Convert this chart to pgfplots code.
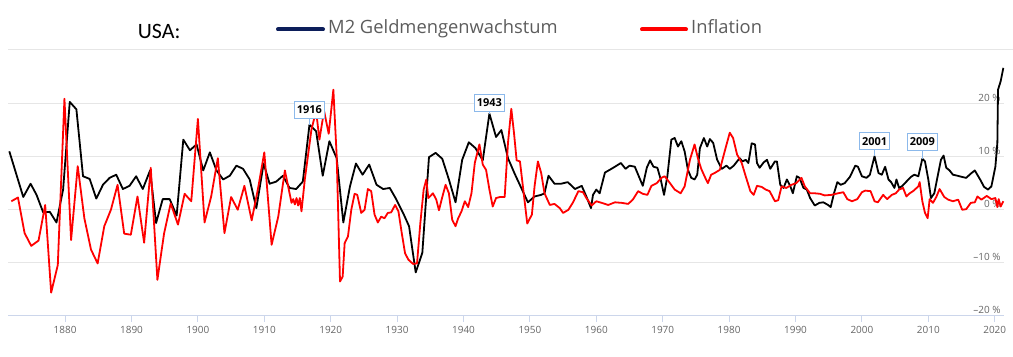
\documentclass[border=0pt]{standalone}
\usepackage{fontspec}
\usepackage{pgfplots}
\pgfplotsset{compat=1.18}
\setmainfont{Open Sans}
\newfontfamily\carlito{Carlito}
\definecolor{m2navy}{RGB}{12,30,90}
\definecolor{legendgray}{RGB}{92,92,92}
\definecolor{tickgray}{RGB}{102,102,102}
\definecolor{gridgray}{RGB}{230,230,230}
\definecolor{axisblue}{RGB}{204,214,235}
\definecolor{lblblue}{RGB}{140,185,235}
\definecolor{infred}{RGB}{255,0,0}
\begin{document}
\begin{tikzpicture}
\path[use as bounding box] (0,0) rectangle (1013bp,357bp);
\draw[gridgray, line width=1bp] (8bp,307.7bp) -- (1013bp,307.7bp);
\node[anchor=base west, inner sep=0] at (137.7bp,318.7bp) {\carlito\fontsize{22}{26}\selectfont USA:};
\draw[m2navy, line width=4bp, line cap=round] (278bp,327.5bp) -- (323bp,327.5bp);
\node[anchor=base west, inner sep=0, text=legendgray] at (328bp,323.7bp) {\fontsize{18.4}{22}\selectfont M2 Geldmengenwachstum};
\draw[infred, line width=4bp, line cap=round] (642bp,327.5bp) -- (686bp,327.5bp);
\node[anchor=base west, inner sep=0, text=legendgray] at (691bp,323.7bp) {\fontsize{18.4}{22}\selectfont Inflation};
\begin{axis}[
  at={(8bp,41bp)}, anchor=south west,
  width=996bp, height=255bp, scale only axis,
  xmin=1871.4, xmax=2021.4, ymin=-20, ymax=28,
  axis x line*=bottom, axis y line*=right,
  x axis line style={draw=axisblue, line width=1bp},
  y axis line style={draw=none},
  xtick={1880,1890,...,2020},
  xticklabels={1880,1890,1900,1910,1920,1930,1940,1950,1960,1970,1980,1990,2000,2010,2020},
  ytick={-20,-10,0,10,20},
  yticklabels={–20 \%,–10 \%,0 \%,10 \%,20 \%},
  ymajorgrids, major grid style={draw=gridgray, line width=1bp},
  xtick style={draw=axisblue, line width=1bp},
  ytick style={draw=none},
  xtick align=outside, major tick length=6bp,
  ticklabel style={font=\fontsize{10}{12}\selectfont, text=tickgray},
  xticklabel style={yshift=-1bp},
  yticklabel style={anchor=base east, yshift=2.5bp, xshift=0bp},
  clip=true,
]
\addplot[black, line width=1.8bp, line join=round] coordinates {
(1871.6,11.0) (1873.7,2.4) (1874.8,4.9) (1875.7,2.8) (1876.7,-0.5) (1877.7,-0.4) (1878.7,-2.4) (1879.7,3.8) (1880.7,20.3) (1881.7,18.9) (1882.7,6.3) (1883.7,5.8) (1884.7,2.1) (1885.7,4.7) (1886.7,6.0) (1887.7,6.6) (1888.7,3.9) (1889.7,4.5) (1890.7,6.3) (1891.7,3.9) (1892.8,7.4) (1893.7,-2.5) (1894.7,2.0) (1895.75,2.0) (1896.8,-1.1) (1897.8,13.2) (1898.8,11.2) (1899.8,12.3) (1900.8,7.4) (1901.8,10.8) (1902.8,7.4) (1903.8,5.7) (1904.8,6.4) (1905.8,8.3) (1906.8,7.7) (1907.8,5.7) (1908.8,0.3) (1909.9,8.7) (1910.8,4.9) (1911.8,5.3) (1912.8,6.4) (1913.8,4.1) (1914.8,3.9) (1915.8,5.3) (1916.8,16.0) (1917.8,14.8) (1918.8,6.4) (1919.8,12.9) (1920.9,9.7) (1921.9,-2.4) (1922.9,4.4) (1923.8,8.7) (1924.8,6.6) (1925.8,8.5) (1926.9,4.7) (1927.9,3.9) (1928.9,4.1) (1929.9,1.9) (1930.9,-0.6) (1931.8,-3.1) (1932.8,-11.8) (1933.8,-8.1) (1934.8,9.9) (1935.8,10.7) (1936.8,9.6) (1937.8,5.7) (1938.8,1.4) (1939.8,9.4) (1940.8,12.7) (1941.8,11.6) (1942.9,9.3) (1943.9,18.1) (1944.9,13.7) (1945.7,15.0) (1946.7,9.7) (1947.7,6.8) (1948.7,4.1) (1949.7,1.4) (1950.7,2.5) (1951.7,2.8) (1952.2,3.1) (1952.8,6.4) (1953.7,4.9) (1954.7,4.9) (1955.7,5.2) (1956.8,3.9) (1957.8,4.5) (1958.5,2.5) (1959.2,0.3) (1959.5,2.8) (1960.0,3.8) (1960.5,3.1) (1961.3,7.0) (1962.0,7.5) (1962.8,8.1) (1963.7,8.8) (1964.4,7.7) (1965.0,8.3) (1965.8,8.1) (1966.4,6.3) (1967.0,4.5) (1967.6,7.9) (1968.1,9.3) (1968.6,8.1) (1969.2,7.9) (1969.7,5.7) (1970.2,2.8) (1970.7,6.3) (1971.3,13.2) (1971.8,13.5) (1972.3,11.9) (1972.8,12.9) (1973.3,11.0) (1973.8,7.5) (1974.3,6.0) (1974.8,5.7) (1975.2,6.6) (1975.6,11.6) (1976.2,13.5) (1976.7,11.9) (1977.1,13.3) (1977.6,12.6) (1978.2,9.4) (1978.9,7.7) (1979.6,8.3) (1980.1,7.7) (1980.7,8.3) (1981.2,9.1) (1981.6,9.7) (1982.0,9.1) (1982.5,9.4) (1982.9,8.8) (1983.4,12.5) (1983.9,12.3) (1984.2,8.8) (1984.6,7.9) (1985.2,8.9) (1985.7,9.4) (1986.2,7.7) (1986.9,9.1) (1987.2,9.1) (1987.7,4.7) (1988.2,4.1) (1988.7,5.7) (1989.2,4.5) (1989.6,3.1) (1990.2,6.3) (1990.6,6.0) (1991.2,4.1) (1991.7,3.8) (1992.2,2.2) (1992.9,0.8) (1993.6,1.3) (1994.2,1.4) (1994.9,0.9) (1995.3,0.5) (1995.8,3.1) (1996.3,5.2) (1996.8,4.7) (1997.4,5.0) (1998.2,6.2) (1999.0,8.3) (1999.4,8.1) (2000.0,6.3) (2000.7,6.0) (2001.2,6.6) (2001.9,10.1) (2002.5,6.9) (2003.0,6.6) (2003.5,8.1) (2004.0,5.7) (2004.4,5.2) (2004.9,4.1) (2005.2,5.7) (2005.6,4.1) (2006.1,4.5) (2006.7,5.3) (2007.4,6.2) (2007.9,6.6) (2008.5,6.3) (2009.1,9.6) (2009.5,9.1) (2010.0,5.7) (2010.4,2.2) (2010.9,3.1) (2011.5,6.9) (2011.9,9.4) (2012.3,10.2) (2012.7,7.9) (2013.2,7.4) (2013.7,6.6) (2014.4,6.4) (2015.0,6.2) (2015.7,6.0) (2016.4,6.8) (2017.0,7.4) (2017.8,5.7) (2018.4,4.3) (2019.0,3.8) (2019.5,4.4) (2020.1,8.1) (2020.4,12.6) (2020.5,22.6) (2020.9,24.2) (2021.3,26.7)
};
\addplot[infred, line width=1.8bp, line join=round] coordinates {
(1871.9,1.6) (1872.9,2.3) (1873.9,-4.4) (1874.9,-6.8) (1876.0,-5.8) (1877.0,0.9) (1877.9,-15.6) (1878.9,-10.4) (1879.9,20.9) (1880.9,-5.7) (1881.9,8.2) (1882.9,-1.6) (1883.9,-7.5) (1884.9,-10.1) (1885.9,-3.1) (1886.9,0.0) (1887.9,4.7) (1888.9,-4.5) (1889.9,-4.7) (1890.9,2.5) (1891.9,-6.2) (1892.9,7.9) (1893.9,-13.2) (1894.9,-4.5) (1895.9,1.2) (1897.0,-2.8) (1898.0,3.0) (1899.0,1.6) (1900.0,17.1) (1901.0,-2.4) (1902.0,2.5) (1903.0,9.7) (1904.0,-4.4) (1905.0,2.4) (1906.0,0.0) (1907.0,4.5) (1908.1,-2.0) (1909.1,4.3) (1910.0,10.8) (1911.1,-6.6) (1912.1,-1.3) (1913.1,7.4) (1914.1,1.3) (1914.35,2.0) (1914.6,1.0) (1914.85,2.2) (1915.1,0.8) (1915.35,2.2) (1915.6,-0.3) (1916.1,5.7) (1917.1,15.1) (1917.8,18.6) (1918.3,13.2) (1919.0,18.6) (1919.7,14.3) (1920.4,22.6) (1920.9,10.1) (1921.4,-13.5) (1921.8,-12.6) (1922.1,-6.3) (1922.6,-5.0) (1923.1,0.0) (1923.6,3.0) (1924.0,2.8) (1924.6,-0.6) (1925.1,0.0) (1925.6,3.9) (1926.1,3.5) (1926.6,-0.9) (1927.1,-2.4) (1927.6,-1.3) (1928.1,-1.6) (1928.6,-0.6) (1929.1,-0.5) (1929.7,0.9) (1930.2,-0.3) (1930.7,-4.4) (1931.2,-8.2) (1931.7,-9.4) (1932.4,-10.2) (1933.0,-10.1) (1933.5,-2.5) (1934.0,3.8) (1934.4,5.7) (1934.7,2.2) (1935.4,3.1) (1935.9,1.9) (1936.3,-0.1) (1936.7,1.9) (1937.3,4.7) (1937.8,3.1) (1938.3,-1.9) (1938.8,-3.1) (1939.2,-1.6) (1939.7,-0.3) (1940.2,1.6) (1940.7,0.5) (1941.2,3.1) (1941.7,8.8) (1942.4,12.3) (1942.9,8.5) (1943.4,7.5) (1943.9,3.8) (1944.4,0.6) (1944.9,2.2) (1945.5,2.4) (1946.2,2.4) (1946.7,12.6) (1947.2,19.0) (1947.6,14.5) (1948.0,9.3) (1948.5,9.1) (1949.0,3.8) (1949.6,-2.6) (1950.3,-0.9) (1950.7,4.4) (1951.2,9.1) (1951.7,6.9) (1952.2,3.1) (1953.0,0.9) (1953.7,1.1) (1954.5,0.3) (1955.0,-0.6) (1955.8,0.0) (1956.5,1.4) (1957.3,3.5) (1958.0,3.3) (1958.5,2.2) (1959.3,0.8) (1960.0,1.6) (1960.8,1.3) (1961.8,0.9) (1962.8,1.4) (1963.8,1.3) (1964.8,1.1) (1965.5,1.9) (1966.3,3.5) (1967.0,3.0) (1967.7,2.8) (1968.3,4.5) (1969.1,5.0) (1969.8,6.0) (1970.3,6.3) (1971.1,5.0) (1971.8,3.8) (1972.7,3.1) (1973.3,4.4) (1974.1,9.4) (1974.8,12.3) (1975.3,9.7) (1975.8,7.7) (1976.3,6.3) (1976.8,5.0) (1977.3,6.6) (1977.8,6.9) (1978.6,7.5) (1979.4,11.3) (1980.1,14.5) (1980.6,13.5) (1981.2,10.4) (1981.9,8.8) (1982.5,6.3) (1983.2,3.5) (1983.7,2.8) (1984.2,4.5) (1984.9,4.3) (1985.5,3.8) (1986.1,3.5) (1986.9,1.6) (1987.4,1.8) (1987.9,4.4) (1988.6,4.1) (1989.4,4.7) (1990.1,5.0) (1990.9,6.0) (1991.4,4.4) (1992.2,3.1) (1992.9,3.1) (1993.7,3.0) (1994.4,2.7) (1995.4,2.8) (1996.4,3.1) (1997.2,3.3) (1997.8,2.0) (1998.5,1.6) (1999.3,2.0) (2000.0,3.3) (2000.5,3.6) (2001.3,3.5) (2001.9,1.6) (2002.4,1.4) (2003.2,2.8) (2003.8,2.0) (2004.5,2.8) (2005.1,3.1) (2005.6,3.8) (2006.2,4.1) (2006.7,2.5) (2007.2,3.1) (2007.7,3.5) (2008.5,4.4) (2008.7,5.2) (2009.1,1.6) (2009.5,-0.6) (2009.9,-1.6) (2010.2,2.0) (2010.7,1.3) (2011.2,2.4) (2011.7,3.9) (2012.4,2.4) (2013.0,1.9) (2013.7,1.6) (2014.5,1.9) (2015.1,0.0) (2015.7,0.1) (2016.4,1.3) (2017.0,1.4) (2017.4,2.5) (2018.0,1.9) (2018.8,2.6) (2019.5,2.0) (2020.1,2.2) (2020.4,0.5) (2020.6,2.0) (2020.9,0.6) (2021.3,1.6)
};
\tikzset{lbl/.style={draw=lblblue, fill=white, line width=0.9bp, inner xsep=2.5bp, inner ysep=0bp, minimum height=17bp, text=black, font=\bfseries\fontsize{11}{13}\selectfont, anchor=south}}
\coordinate (p1) at (axis cs:1916.8,16.0);
\coordinate (p2) at (axis cs:1943.9,18.1);
\coordinate (p3) at (axis cs:2001.9,10.1);
\coordinate (p4) at (axis cs:2009.1,9.6);
\draw[lblblue, line width=0.8bp] (p1) -- ([yshift=6bp]p1);
\draw[lblblue, line width=0.8bp] (p2) -- ([yshift=2bp]p2);
\draw[lblblue, line width=0.8bp] (p3) -- ([yshift=6bp]p3);
\draw[lblblue, line width=0.8bp] (p4) -- ([yshift=8bp]p4);
\node[lbl] at ([yshift=6bp]p1) {1916};
\node[lbl] at ([yshift=2bp]p2) {1943};
\node[lbl] at ([yshift=6bp]p3) {2001};
\node[lbl] at ([yshift=8bp]p4) {2009};
\end{axis}
\end{tikzpicture}
\end{document}
